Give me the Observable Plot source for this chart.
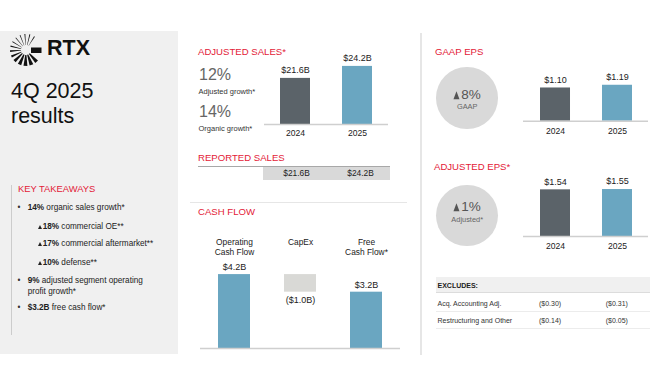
<!DOCTYPE html>
<html><head><meta charset="utf-8">
<script src="https://cdn.jsdelivr.net/npm/d3@7"></script>
<script src="https://cdn.jsdelivr.net/npm/@observablehq/plot@0.6"></script>
<style>
html,body{margin:0;padding:0;background:#fff;}
#root{position:relative;width:650px;height:386px;overflow:hidden;font-family:"Liberation Sans",Arial,Helvetica,sans-serif;color:#222;}
.t{position:absolute;white-space:nowrap;line-height:1;transform:translateY(-50%);}
.c{transform:translate(-50%,-50%);text-align:center;}
.box{position:absolute;}
.tri{display:inline-block;width:0;height:0;border-left:0.29em solid transparent;border-right:0.29em solid transparent;border-bottom:0.6em solid currentColor;margin-right:0.12em;vertical-align:0;}
</style></head><body><div id="root"></div>
<script>
// ---------- data ----------
const years = ["2024", "2025"];
const adjSales = [21.6, 24.2];
const adjSalesLabels = ["$21.6B", "$24.2B"];
const reportedSalesLabels = ["$21.6B", "$24.2B"];
const gaapEps = [1.10, 1.19];
const gaapEpsLabels = ["$1.10", "$1.19"];
const adjEps = [1.54, 1.55];
const adjEpsLabels = ["$1.54", "$1.55"];
const cashCats = ["Operating\nCash Flow", "CapEx", "Free\nCash Flow*"];
const cashValues = [4.2, -1.0, 3.2];
const cashLabels = ["$4.2B", "($1.0B)", "$3.2B"];
const growthValues = ["12%", "14%"];
const growthLabels = ["Adjusted growth*", "Organic growth*"];
const gaapChange = "8%";
const adjChange = "1%";
const excludesRows = ["Acq. Accounting Adj.", "Restructuring and Other"];
const excludes2024 = ["($0.30)", "($0.14)"];
const excludes2025 = ["($0.31)", "($0.05)"];
const takeawayBold = ["14%", "18%", "17%", "10%", "9%", "$3.2B"];
const takeawayText = [" organic sales growth*", " commercial OE**", " commercial aftermarket**", " defense**", " adjusted segment operating", " free cash flow*"];

// ---------- helpers ----------
const FONT = '"Liberation Sans", Arial, Helvetica, sans-serif';
const RED = "#e31937";
const C = {dark: "#5b6369", blue: "#6aa6c1", grey: "#d9d9d6", base: "#cfcfcf"};
const root = document.getElementById("root");
function box(x, y, w, h, bg, extra) {
  const d = document.createElement("div");
  d.className = "box";
  Object.assign(d.style, {left: x + "px", top: y + "px", width: w + "px", height: h + "px", background: bg}, extra || {});
  root.appendChild(d);
  return d;
}
function txt(x, y, content, o = {}) {
  const d = document.createElement("div");
  d.className = "t" + (o.center ? " c" : "");
  d.style.left = x + "px"; d.style.top = y + "px";
  d.style.fontSize = (o.size || 8) + "px";
  if (o.color) d.style.color = o.color;
  if (o.bold) d.style.fontWeight = "bold";
  if (o.html) d.innerHTML = content; else d.textContent = content;
  root.appendChild(d);
  return d;
}
const TRI = '<span class="tri"></span>';

// ---------- background panels & separators ----------
box(0, 31, 178, 323, "#f0f0f0");
box(11, 185, 1, 150, "#cccccc");
box(420, 33, 1.5, 322, "#e6e6e6");
box(190, 201.5, 217, 1.5, "#e6e6e6");

// ---------- logo ----------
(function logo() {
  const ns = "http://www.w3.org/2000/svg";
  const svg = document.createElementNS(ns, "svg");
  svg.setAttribute("width", 40); svg.setAttribute("height", 34);
  Object.assign(svg.style, {position: "absolute", left: "5px", top: "32px"});
  const cx = 21, cy = 18, r0 = 5, r1 = 16;
  const rays = [[-130, 2.5], [-112, 3], [-94, 3.5], [-76, 3.5], [-58, 3.5], [-148, 3], [-166, 4], [176, 6], [156, 8], [136, 11], [114, 13], [92, 14], [70, 14], [48, 13]];
  rays.forEach(([a, w]) => {
    const a0 = (a - w / 2) * Math.PI / 180, a1 = (a + w / 2) * Math.PI / 180;
    const p = [[r0, a0], [r1, a0], [r1, a1], [r0, a1]].map(([r, t]) => (cx + r * Math.cos(t)).toFixed(2) + "," + (cy + r * Math.sin(t)).toFixed(2)).join(" ");
    const poly = document.createElementNS(ns, "polygon");
    poly.setAttribute("points", p); poly.setAttribute("fill", "#111");
    svg.appendChild(poly);
  });
  const rect = document.createElementNS(ns, "rect");
  rect.setAttribute("x", 26); rect.setAttribute("y", 15.5); rect.setAttribute("width", 10.5); rect.setAttribute("height", 5.5); rect.setAttribute("fill", "#111");
  svg.appendChild(rect);
  root.appendChild(svg);
})();
txt(47, 49, "RTX", {size: 21.5, bold: true, color: "#111"});
txt(11, 91.5, "4Q 2025", {size: 21.5, color: "#111"});
txt(11, 116.5, "results", {size: 21.5, color: "#111"});

// ---------- key takeaways ----------
txt(18, 189, "KEY TAKEAWAYS", {size: 9.4, color: RED});
const tkRows = [
  {x: 27.7, y: 208.3, bullet: true, tri: false, i: 0},
  {x: 37.7, y: 226.7, bullet: false, tri: true, i: 1},
  {x: 37.7, y: 244.3, bullet: false, tri: true, i: 2},
  {x: 37.7, y: 262.7, bullet: false, tri: true, i: 3},
  {x: 27.7, y: 281, bullet: true, tri: false, i: 4},
  {x: 27.7, y: 308.3, bullet: true, tri: false, i: 5}
];
tkRows.forEach(r => {
  if (r.bullet) txt(17.5, r.y, "•", {size: 8.2, color: "#333"});
  txt(r.x, r.y, (r.tri ? TRI : "") + "<b>" + takeawayBold[r.i] + "</b>" + takeawayText[r.i], {size: 8.2, html: true, color: "#222"});
});
txt(27.7, 291.7, "profit growth*", {size: 8.2, color: "#222"});

// ---------- adjusted sales ----------
txt(198, 52.3, "ADJUSTED SALES*", {size: 9.6, color: RED});
txt(199, 74.5, growthValues[0], {size: 16, color: "#666"});
txt(198.5, 91.7, growthLabels[0], {size: 7.5, color: "#333"});
txt(199, 111.5, growthValues[1], {size: 16, color: "#666"});
txt(198.5, 129, growthLabels[1], {size: 7.5, color: "#333"});

function yearBars({values, labels, domain, left, top, width, rangeH, bottom, inset, labelDy, yearDy}) {
  const data = years.map((y, i) => ({year: y, value: values[i], label: labels[i]}));
  const plot = Plot.plot({
    width, height: rangeH + bottom,
    marginTop: 0, marginBottom: bottom, marginLeft: 0, marginRight: 0,
    x: {type: "band", domain: years, padding: 0, axis: null},
    y: {domain, axis: null},
    color: {domain: years, range: [C.dark, C.blue]},
    style: {fontFamily: FONT, overflow: "visible", background: "none"},
    marks: [
      Plot.barY(data, {x: "year", y1: domain[0], y2: "value", fill: "year", insetLeft: inset, insetRight: inset}),
      Plot.ruleY([domain[0]], {stroke: C.base, strokeWidth: 1.5}),
      Plot.text(data, {x: "year", y: "value", text: "label", dy: labelDy, fontSize: 9, fill: "#222"}),
      Plot.text(data, {x: "year", y: domain[0], text: "year", dy: yearDy, fontSize: 8.6, fill: "#222"})
    ]
  });
  Object.assign(plot.style, {position: "absolute", left: left + "px", top: top + "px"});
  root.appendChild(plot);
}
yearBars({values: adjSales, labels: adjSalesLabels, domain: [11.6, 27.65], left: 264, top: 50, width: 124, rangeH: 74, bottom: 16, inset: 16, labelDy: -8, yearDy: 9});

// ---------- reported sales ----------
txt(198, 158.3, "REPORTED SALES", {size: 9.6, color: RED});
box(198, 165.5, 192, 1.5, "#a8a8a8");
box(263, 167, 127, 12.5, "#d9d9d9");
[296.5, 360.5].forEach((x, i) => txt(x, 173.3, reportedSalesLabels[i], {size: 8.4, center: true, color: "#222"}));

// ---------- cash flow ----------
txt(198, 212.3, "CASH FLOW", {size: 9.6, color: RED});
(function cashFlow() {
  let run = 0;
  const data = cashCats.map((cat, i) => {
    const v = cashValues[i];
    let y1, y2;
    if (i === cashCats.length - 1) { y1 = 0; y2 = v; }
    else { y1 = run; y2 = run + v; run = y2; }
    return {cat, y1, y2, top: Math.max(y1, y2), bot: Math.min(y1, y2), label: cashLabels[i], kind: i === 1 ? "capex" : "flow"};
  });
  const plot = Plot.plot({
    width: 200, height: 130,
    marginTop: 0, marginBottom: 4, marginLeft: 0, marginRight: 0,
    x: {type: "band", domain: cashCats, padding: 0, axis: null},
    y: {domain: [0, 7.16], axis: null},
    color: {domain: ["flow", "capex"], range: [C.blue, C.grey]},
    style: {fontFamily: FONT, overflow: "visible", background: "none"},
    marks: [
      Plot.barY(data, {x: "cat", y1: "y1", y2: "y2", fill: "kind", insetLeft: 17, insetRight: 17}),
      Plot.ruleY([0], {stroke: C.base, strokeWidth: 1.5}),
      Plot.text(data.filter(d => d.kind === "flow"), {x: "cat", y: "top", text: "label", dy: -7.5, fontSize: 9, fill: "#222"}),
      Plot.text(data.filter(d => d.kind === "capex"), {x: "cat", y: "bot", text: "label", dy: 8, fontSize: 9, fill: "#222"}),
      Plot.text(data, {x: "cat", text: "cat", frameAnchor: "top", dy: 15.7, lineHeight: 1.2, fontSize: 8.4, fill: "#222"})
    ]
  });
  Object.assign(plot.style, {position: "absolute", left: "200px", top: "222px"});
  root.appendChild(plot);
})();

// ---------- EPS ----------
function bubble(cx, cy, change, label, labelY) {
  box(cx - 30.8, cy - 30.8, 61.6, 61.6, "#d9d9d9", {borderRadius: "50%"});
  txt(cx, labelY[0], TRI + change, {size: 13.5, center: true, html: true, color: "#555"});
  txt(cx, labelY[1], label, {size: 7.4, center: true, color: "#666"});
}
txt(435, 52.3, "GAAP EPS", {size: 9.6, color: RED});
bubble(467.2, 98, gaapChange, "GAAP", [95, 107.3]);
yearBars({values: gaapEps, labels: gaapEpsLabels, domain: [0, 2.01], left: 523, top: 60, width: 125, rangeH: 60.7, bottom: 16, inset: 16, labelDy: -7.7, yearDy: 10});

txt(434, 166.7, "ADJUSTED EPS*", {size: 9.6, color: RED});
bubble(467.2, 215.5, adjChange, "Adjusted*", [206.7, 220]);
yearBars({values: adjEps, labels: adjEpsLabels, domain: [0, 2.178], left: 523, top: 170, width: 125, rangeH: 66, bottom: 16, inset: 16, labelDy: -8, yearDy: 9.7});

// ---------- excludes table ----------
box(436, 277.3, 214, 14.4, "#f0f0f0", {borderBottom: "1px solid #dcdcdc"});
txt(437.5, 285, "EXCLUDES:", {size: 7, bold: true, color: "#222"});
const rowY = [302.7, 320];
excludesRows.forEach((r, i) => {
  txt(437.5, rowY[i], r, {size: 7, color: "#333"});
  txt(539, rowY[i], excludes2024[i], {size: 7, color: "#333"});
  txt(605.7, rowY[i], excludes2025[i], {size: 7, color: "#333"});
  box(436, rowY[i] + 8, 214, 1, "#ececec");
});
</script></body></html>
